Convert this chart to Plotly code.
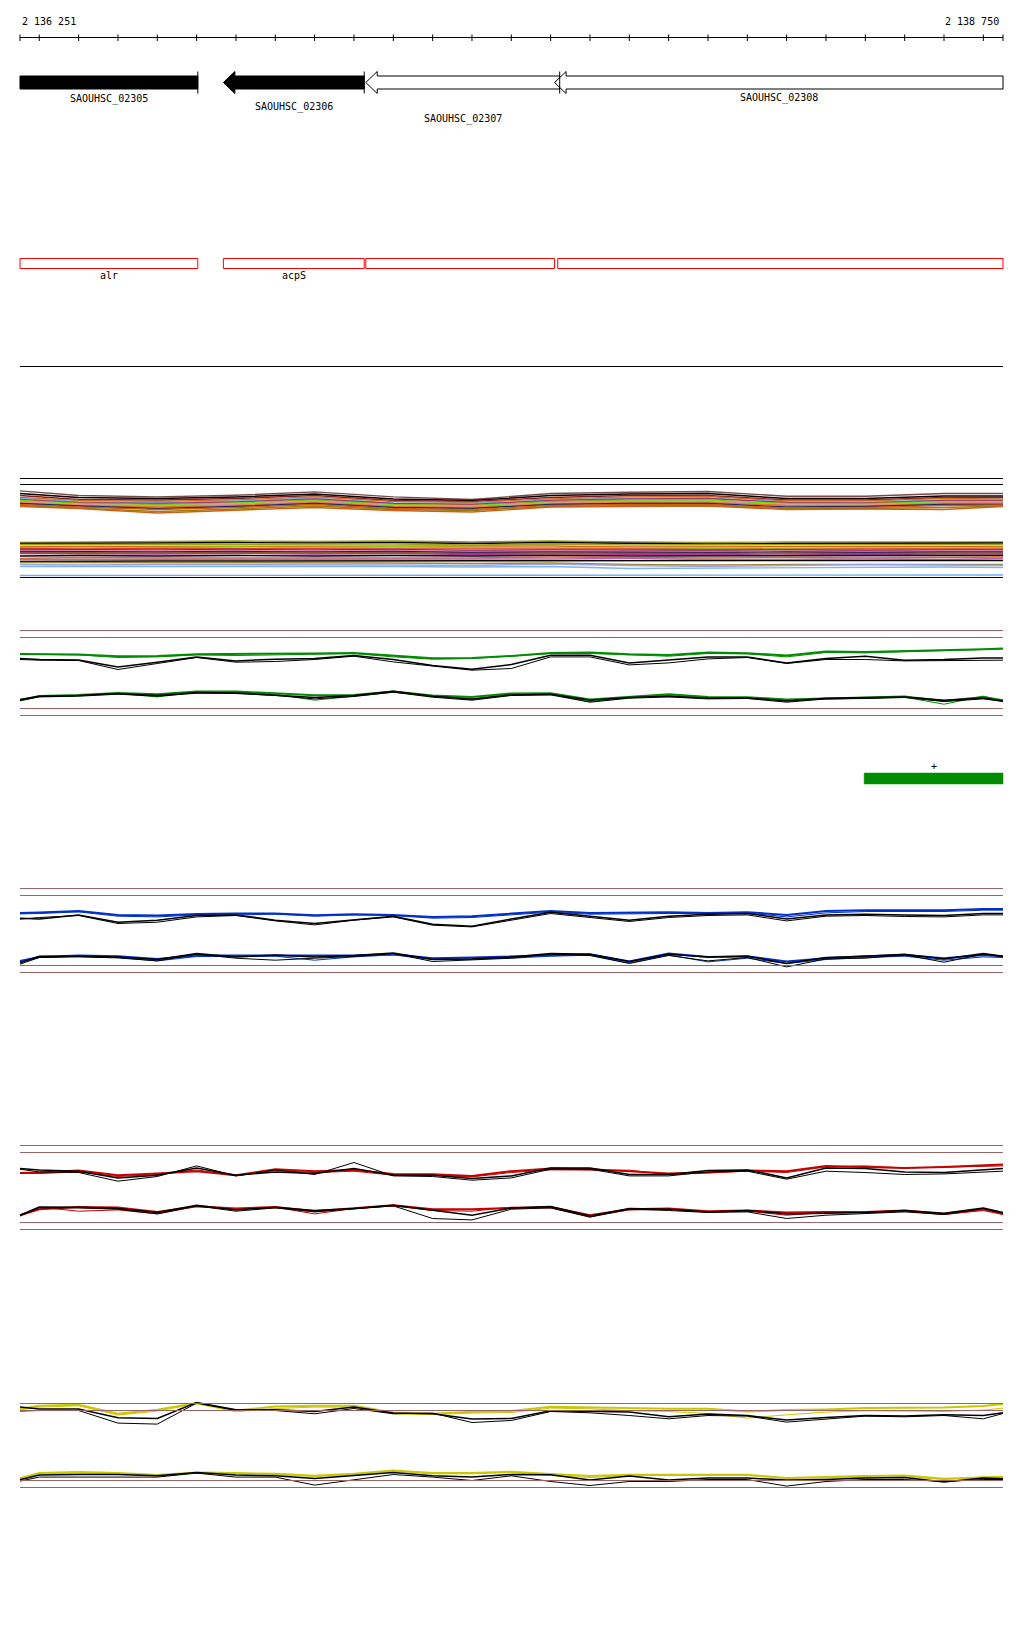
import plotly.graph_objects as go

# ---------------- data ----------------
VIEW_START = 2136251
VIEW_END = 2138750
RULER_TICKS = list(range(2136300, 2138701, 100))
GRID_X = [VIEW_START] + RULER_TICKS + [VIEW_END]
CLUSTER_X = [2136251, 2136400, 2136600, 2136800, 2137000, 2137200, 2137400,
             2137600, 2137800, 2138000, 2138200, 2138400, 2138600, 2138750]

GENE_NAMES = ["SAOUHSC_02305", "SAOUHSC_02306", "SAOUHSC_02307", "SAOUHSC_02308"]
GENE_START = [2136251, 2136768, 2137130, 2137610]
GENE_END = [2136703, 2137126, 2137623, 2138750]
GENE_FILLED = [True, True, False, False]
GENE_HEAD = [False, True, True, True]

CDS_LABELS = ["alr", "acpS", "", ""]
CDS_START = [2136251, 2136768, 2137130, 2137618]
CDS_END = [2136703, 2137126, 2137610, 2138750]

FEATURE_START = [2138397]
FEATURE_END = [2138750]
FEATURE_LABEL = ["+"]

# multi-sample profile track (offset below track top)
TOP_CLUSTER = [
    [12.4, 17.0, 18.4, 16.7, 13.4, 18.4, 21.0, 15.0, 13.7, 13.0, 17.7, 17.7, 15.0, 15.0],
    [15, 19, 20, 18.5, 15.5, 20.5, 22, 17, 15.5, 15, 20, 20, 17.5, 17.5],
    [17, 21, 21.5, 20, 17, 22, 23, 19, 17, 17, 21.5, 21.5, 19, 19],
    [19, 22, 23, 21.5, 18.5, 23, 24, 20.5, 18.5, 18, 22.5, 22.5, 20, 20.5],
    [20, 23, 24, 22.5, 19.5, 24.5, 25, 21.5, 19.5, 19.5, 23.5, 23.5, 21.5, 21],
    [21, 24, 25, 23.5, 20.5, 25, 26, 22, 20.5, 20, 24, 24.5, 22, 22],
    [22, 24.5, 26, 24.5, 21.5, 26, 27, 23, 21.5, 21.5, 25, 25, 23, 23],
    [22.5, 25.5, 27, 25, 22.5, 26.5, 27.5, 24, 22.5, 22, 25.5, 26, 23.5, 23.5],
    [23.5, 26, 27.5, 26, 23, 27.5, 28.5, 24.5, 23, 23, 26.5, 26.5, 24.5, 24],
    [24.5, 27, 28.5, 27, 24, 28, 29, 25.5, 24, 24, 27, 27.5, 25, 25],
    [25, 27.5, 30, 28, 25, 29, 30, 26, 25, 25, 28.5, 28, 26, 26],
    [26, 28.5, 31, 29, 26, 30, 31, 27, 26, 26, 29.5, 29, 27, 26.5],
    [27, 29.5, 33, 30.5, 27.5, 31, 32, 28, 27, 27, 30, 30, 29, 27.5],
    [28, 30, 34.5, 31.5, 29, 32, 33.5, 28.5, 28, 27.5, 31, 30.5, 31, 28],
]
BOTTOM_CLUSTER = [
    [64, 63.5, 63, 62.5, 63, 62.5, 63.5, 62.5, 63.5, 64, 63.5, 63.5, 63, 63.5],
    [65, 64.5, 64.5, 64, 64.5, 64, 65, 64, 65, 65.5, 65, 65, 64.5, 64.5],
    [66, 66, 65.5, 65.5, 66, 65.5, 66.5, 65.5, 66.5, 66.5, 66, 66.5, 66, 66],
    [68, 68, 67.5, 67.5, 68, 67.5, 68, 67.5, 68.5, 68.5, 68, 68.5, 68, 68],
    [69, 69.5, 69, 68.5, 69, 68.5, 69, 69, 69.5, 70, 69.5, 69.5, 69.5, 69],
    [70, 70.5, 70, 70, 70.5, 70, 70.5, 70, 70.5, 71, 70.5, 70.5, 70.5, 70.5],
    [71, 71.5, 71.5, 71, 71.5, 71, 72, 71.5, 72, 72, 71.5, 72, 71.5, 71.5],
    [72, 72.5, 72.5, 72, 72.5, 72, 73, 72.5, 73, 73, 72.5, 73, 72.5, 72.5],
    [73, 73.5, 73.5, 73, 73.5, 73, 74, 73.5, 74, 74, 73.5, 74, 73.5, 73.5],
    [74, 74.5, 74.5, 74, 74.5, 74, 75, 74.5, 75, 75, 74.5, 75, 74.5, 74.5],
    [75, 75.5, 75.5, 75, 75.5, 75, 76, 75.5, 76, 76, 75.5, 76, 75.5, 75.5],
    [77.5, 77, 77.5, 77, 77.5, 77, 77.5, 77, 77.5, 77.5, 77, 77.5, 77, 77],
    [80, 79, 79.5, 79.5, 79, 79, 79.5, 78.5, 79, 79.5, 79, 79.5, 79, 78.5],
    [81, 81, 80.5, 81, 81, 80.5, 81, 80.5, 80, 81, 81, 80.5, 81, 80],
    [83, 82.5, 82.5, 82.5, 82.5, 82.5, 82.5, 82, 82, 82.5, 82.5, 82.5, 82, 82],
    [84, 84, 84.5, 84, 84.5, 84.5, 85, 84.5, 86, 86.5, 86, 86, 85.5, 86],
    [86, 86.5, 86, 86, 86, 86.5, 87, 85.5, 87, 88, 87, 86, 86.5, 87],
    [88, 88, 88, 88, 87.5, 88, 88.5, 88, 90, 89.5, 89, 88.5, 88.5, 89],
    [97, 97, 97, 97, 97, 97, 97, 96.5, 96.5, 96.5, 96.5, 96.5, 96.5, 96.5],
]

# paired graph tracks (offset below each track's top guide line)
GREEN_TOP_A = [23.4, 23.4, 24.0, 25.7, 25.4, 23.7, 23.7, 23.4, 23.0, 22.4, 25.0, 27.7, 27.4, 25.4, 22.4, 22.0, 23.7, 24.4, 22.0, 22.7, 25.0, 21.0, 21.4, 20.7, 19.7, 18.7, 18.0]
GREEN_TOP_B = [23.7, 24.0, 24.4, 27.0, 26.4, 24.4, 25.0, 24.4, 23.4, 23.0, 26.4, 28.7, 28.0, 25.7, 23.0, 23.0, 24.7, 25.7, 23.0, 23.4, 26.4, 22.0, 22.4, 21.4, 20.4, 19.0, 18.4]
GREEN_TOP_K1 = [28.0, 29.0, 29.4, 36.4, 31.7, 26.4, 30.4, 28.7, 28.0, 25.0, 29.0, 35.0, 38.7, 34.0, 24.7, 24.7, 32.4, 29.7, 26.4, 26.4, 32.4, 28.0, 25.7, 29.7, 29.0, 27.4, 27.4]
GREEN_TOP_K2 = [29.0, 29.7, 30.0, 39.0, 33.0, 27.0, 31.7, 31.0, 29.0, 25.7, 31.4, 35.7, 39.7, 38.0, 26.4, 26.4, 34.4, 32.4, 28.4, 27.0, 33.0, 29.0, 29.0, 30.4, 30.4, 30.0, 29.7]
GREEN_BOT_A = [69.7, 65.4, 64.4, 62.4, 63.7, 61.0, 61.0, 63.0, 64.7, 64.4, 61.0, 65.0, 66.4, 63.0, 62.7, 69.0, 66.4, 63.7, 66.4, 66.7, 69.0, 68.0, 67.0, 66.0, 70.4, 66.4, 69.7]
GREEN_BOT_B = [70.4, 66.0, 64.7, 63.0, 66.4, 61.7, 61.7, 63.7, 69.7, 65.7, 61.7, 65.7, 69.0, 63.7, 63.7, 71.0, 67.0, 65.0, 67.7, 67.4, 70.4, 68.7, 67.7, 66.7, 73.7, 65.7, 70.4]
GREEN_BOT_K1 = [69.0, 65.7, 65.0, 63.0, 65.0, 62.0, 62.4, 64.4, 67.0, 65.0, 60.7, 65.7, 68.4, 64.4, 63.7, 69.7, 67.0, 65.7, 67.7, 67.4, 70.4, 67.7, 67.4, 66.4, 69.7, 67.4, 70.4]
GREEN_BOT_K2 = [70.0, 66.4, 65.7, 63.7, 65.7, 62.7, 63.0, 65.0, 68.4, 66.0, 61.7, 66.7, 69.7, 65.0, 64.4, 71.7, 67.7, 66.4, 68.4, 68.0, 71.7, 68.4, 68.0, 67.0, 71.0, 68.4, 71.0]

BLUE_TOP_A = [24.4, 24.0, 22.4, 26.4, 27.0, 25.4, 25.0, 25.0, 26.7, 25.7, 26.4, 28.4, 27.7, 25.4, 22.4, 24.4, 23.7, 23.7, 24.4, 23.7, 26.4, 22.4, 21.7, 21.7, 21.7, 20.4, 20.4]
BLUE_TOP_B = [25.4, 25.0, 23.4, 27.7, 28.4, 26.4, 26.4, 25.7, 27.7, 26.4, 27.0, 29.7, 29.0, 26.4, 23.7, 25.7, 25.0, 25.0, 25.0, 24.4, 28.4, 24.4, 23.0, 23.0, 23.0, 21.7, 21.7]
BLUE_TOP_K1 = [29.7, 30.4, 26.4, 33.7, 31.7, 27.0, 26.4, 31.7, 35.0, 31.0, 27.7, 35.7, 37.7, 30.4, 23.7, 27.7, 31.7, 27.7, 25.7, 25.0, 30.4, 26.4, 25.7, 26.4, 27.0, 25.0, 25.0]
BLUE_TOP_K2 = [30.7, 29.0, 27.0, 35.0, 33.7, 28.4, 27.0, 32.4, 36.4, 31.7, 28.4, 36.7, 38.4, 31.7, 25.0, 29.0, 33.0, 29.0, 27.0, 26.4, 32.4, 27.7, 27.0, 28.0, 28.4, 26.4, 26.4]
BLUE_BOT_A = [72.4, 68.4, 67.0, 67.7, 70.4, 67.0, 67.0, 67.0, 67.7, 67.0, 65.7, 69.7, 69.0, 67.7, 66.4, 65.7, 73.0, 65.0, 68.4, 67.7, 73.0, 69.7, 67.7, 66.4, 69.7, 66.4, 67.7]
BLUE_BOT_B = [73.4, 69.0, 67.7, 69.0, 72.4, 68.0, 68.0, 67.7, 71.7, 68.4, 66.4, 71.0, 70.4, 69.7, 67.7, 66.7, 74.4, 66.4, 73.4, 69.7, 75.0, 71.0, 69.0, 67.7, 71.7, 68.4, 69.0]
BLUE_BOT_K1 = [74.4, 67.7, 67.7, 68.4, 71.0, 65.0, 68.4, 66.4, 68.4, 67.0, 64.4, 71.0, 70.4, 68.4, 65.0, 65.7, 73.0, 65.7, 68.4, 67.7, 75.0, 69.0, 67.7, 65.7, 70.4, 65.0, 67.7]
BLUE_BOT_K2 = [75.7, 69.0, 68.4, 69.4, 72.4, 65.7, 69.7, 71.7, 69.7, 68.0, 65.0, 73.0, 71.4, 69.7, 65.7, 67.0, 75.0, 67.0, 72.4, 69.0, 78.4, 70.4, 69.7, 66.4, 73.7, 65.7, 68.4]

RED_TOP_A = [27.4, 27.0, 25.0, 29.7, 28.0, 25.7, 29.7, 23.7, 25.7, 24.4, 28.4, 28.7, 30.4, 25.7, 23.0, 23.7, 25.7, 28.0, 27.0, 25.0, 25.7, 20.4, 21.4, 22.4, 21.4, 19.7, 19.0]
RED_TOP_B = [28.0, 28.0, 26.4, 31.0, 29.0, 24.4, 30.4, 25.0, 27.0, 25.7, 29.7, 29.7, 31.4, 27.0, 24.4, 24.4, 24.7, 29.0, 27.0, 25.7, 27.0, 21.4, 20.4, 22.4, 21.7, 20.4, 20.4]
RED_TOP_K1 = [23.0, 24.4, 25.7, 32.4, 29.7, 22.4, 29.7, 26.4, 28.0, 23.0, 29.7, 29.7, 33.0, 30.4, 22.4, 22.4, 29.0, 29.0, 25.0, 24.4, 32.4, 22.4, 23.0, 26.4, 27.0, 24.4, 23.0]
RED_TOP_K2 = [23.7, 26.4, 27.0, 35.7, 31.0, 20.4, 30.4, 24.4, 29.0, 17.0, 30.4, 31.0, 34.7, 32.4, 23.7, 23.7, 30.4, 30.4, 26.4, 25.7, 33.7, 25.7, 27.0, 29.0, 28.4, 26.4, 25.7]
RED_BOT_A = [69.7, 63.7, 61.4, 62.0, 66.4, 60.7, 63.0, 61.4, 65.7, 62.4, 59.7, 63.7, 63.7, 62.4, 61.4, 69.7, 63.7, 63.0, 65.7, 65.0, 67.0, 66.4, 66.4, 65.0, 68.4, 63.7, 68.4]
RED_BOT_B = [70.4, 61.7, 65.7, 64.4, 68.4, 61.0, 63.7, 61.7, 68.4, 63.0, 60.4, 65.0, 65.7, 61.7, 62.4, 71.0, 64.4, 63.7, 66.4, 65.7, 69.7, 67.0, 67.0, 65.7, 69.0, 65.0, 69.0]
RED_BOT_K1 = [69.7, 61.4, 61.7, 63.0, 67.0, 59.7, 64.4, 61.7, 65.0, 63.0, 59.7, 64.7, 69.7, 62.4, 61.0, 70.4, 63.0, 63.7, 66.4, 65.0, 68.4, 67.7, 67.0, 65.0, 67.7, 62.4, 67.0]
RED_BOT_K2 = [70.4, 62.4, 62.4, 63.7, 68.4, 60.4, 65.7, 62.4, 66.4, 63.7, 60.4, 73.0, 74.4, 63.7, 62.4, 71.7, 63.7, 65.0, 67.0, 66.4, 73.0, 69.7, 67.7, 66.4, 69.0, 63.0, 67.7]

YEL_TOP_A = [5.6, 2.3, 1.3, 10.3, 6.3, -0.4, 7.0, 3.0, 2.3, 2.3, 9.0, 10.3, 8.3, 7.6, 3.3, 4.0, 4.0, 5.3, 5.3, 8.0, 6.6, 6.0, 4.6, 4.0, 4.0, 2.6, 0.6]
YEL_TOP_B = [6.3, 3.6, 2.3, 11.6, 7.6, 0.3, 8.3, 5.0, 3.6, 3.6, 10.3, 11.0, 9.6, 9.0, 4.6, 5.3, 7.3, 8.0, 10.0, 14.6, 11.3, 8.6, 7.3, 7.3, 8.0, 6.6, 4.6]
YEL_TOP_K1 = [3.6, 5.6, 5.6, 14.3, 15.0, -1.0, 6.3, 6.3, 8.0, 3.6, 9.6, 10.3, 15.6, 15.0, 7.3, 8.0, 8.6, 13.3, 10.6, 12.0, 16.6, 14.0, 12.0, 12.6, 11.3, 12.0, 9.3]
YEL_TOP_K2 = [7.6, 7.0, 7.0, 19.6, 20.6, -0.4, 7.0, 7.0, 10.3, 5.0, 10.3, 9.6, 19.0, 17.0, 8.0, 9.3, 12.0, 15.3, 12.0, 12.6, 18.6, 15.3, 12.6, 13.3, 12.0, 15.3, 10.0]
YEL_BOT_A = [74.6, 69.6, 68.6, 69.6, 71.6, 69.0, 69.6, 70.3, 72.3, 70.3, 67.0, 69.6, 69.6, 68.3, 70.6, 72.6, 71.3, 71.3, 71.3, 71.3, 74.6, 73.3, 72.6, 72.0, 75.3, 74.0, 73.3]
YEL_BOT_B = [75.6, 70.3, 69.6, 70.3, 72.3, 69.6, 70.3, 71.0, 73.0, 71.3, 67.6, 70.3, 70.3, 69.0, 72.0, 74.0, 72.0, 72.0, 72.0, 72.0, 74.6, 74.6, 74.0, 73.3, 76.0, 73.3, 74.0]
YEL_BOT_K1 = [76.3, 71.6, 71.0, 71.0, 72.3, 69.0, 71.6, 72.3, 75.0, 72.3, 69.0, 72.3, 73.6, 71.0, 71.3, 76.6, 72.6, 76.6, 74.6, 74.6, 76.6, 76.0, 74.6, 74.0, 78.6, 74.6, 75.3]
YEL_BOT_K2 = [77.6, 73.6, 73.6, 73.6, 73.6, 69.6, 73.6, 73.6, 81.6, 76.3, 71.0, 73.6, 77.0, 72.3, 78.0, 82.0, 78.0, 78.0, 76.0, 76.0, 82.6, 78.0, 76.0, 76.0, 78.0, 76.0, 76.0]

# ---------------- styles / layout ----------------
PAGE_W, PAGE_H, BODY = 1024, 1640, 8          # browser body margin
W, H = PAGE_W - 2 * BODY, PAGE_H - 2 * BODY    # figure size
PX_L, PX_R, PAD = 20, 1003, 2                  # page pixels of the view edges
BP_PER_PX = (VIEW_END - VIEW_START) / (PX_R - PX_L)
X_RANGE = [VIEW_START - PAD * BP_PER_PX, VIEW_END + PAD * BP_PER_PX]
FONT = dict(family="DejaVu Sans Mono", size=10, color="black")
GUIDE = "#9b6464"

TOP_COLORS = ["#7a4a4a", "#000000", "#8b1a1a", "#d2691e", "#7fb2e5", "#a0307a", "#9a9a10",
              "#66ee11", "#e090a0", "#e8742c", "#20206a", "#c0601c", "#a08000", "#cc5f1a"]
BOT_COLORS = ["#9a9a00", "#000000", "#a0a020", "#d2691e", "#7cdc00", "#e03c28", "#8b1c62",
              "#d890c0", "#191970", "#8b5a2b", "#b0308a", "#000000", "#d2691e", "#c060b0",
              "#000000", "#a08830", "#a0a0e6", "#78b4f0", "#6ab0f0"]

fig = go.Figure()
shapes, annotations = [], []


def dom(p0, p1):
    return [1 - (p1 - BODY) / H, 1 - (p0 - BODY) / H]


def hline(yref, y, color, width=1, x0=VIEW_START, x1=VIEW_END):
    shapes.append(dict(type="line", xref="x", yref=yref, x0=x0, x1=x1, y0=y, y1=y,
                       line=dict(color=color, width=width), layer="above"))


def text(x, y, s, xanchor="center", size=10, yref="y"):
    annotations.append(dict(x=x, y=y, xref="x", yref=yref, text=s, showarrow=False,
                            xanchor=xanchor, yanchor="middle", font=dict(FONT, size=size)))


def lines(xs, ys, color, width, yaxis):
    fig.add_trace(go.Scatter(x=xs, y=ys, mode="lines", yaxis=yaxis, hoverinfo="skip",
                             line=dict(color=color, width=width), showlegend=False))


# ruler (page-row layout axis y)
RULER_Y = 37.5
rx, ry = [VIEW_START, VIEW_END, None], [RULER_Y, RULER_Y, None]
for t in [VIEW_START] + RULER_TICKS + [VIEW_END]:
    rx += [t, t, None]
    ry += [34.5, 41, None]
lines(rx, ry, "black", 1, "y")
fmt = lambda v: f"{v:,}".replace(",", " ")
text(VIEW_START, 21, fmt(VIEW_START), xanchor="left")
text(VIEW_END - 2 * BP_PER_PX, 21, fmt(VIEW_END), xanchor="right")

# genes
C, HALF, HEADH = 82.5, 6.5, 11
HEAD_BP = 11.5 * BP_PER_PX
LABEL_Y = [98.5, 106.5, 118.5, 97.5]
for name, s, e, filled, head, ly in zip(GENE_NAMES, GENE_START, GENE_END, GENE_FILLED, GENE_HEAD, LABEL_Y):
    if head:
        xs = [s, s + HEAD_BP, s + HEAD_BP, e, e, s + HEAD_BP, s + HEAD_BP, s]
        ys = [C, C - HEADH, C - HALF, C - HALF, C + HALF, C + HALF, C + HEADH, C]
    else:
        xs = [s, e, e, s, s]
        ys = [C - HALF, C - HALF, C + HALF, C + HALF, C - HALF]
    fig.add_trace(go.Scatter(x=xs, y=ys, mode="lines", fill="toself", yaxis="y",
                             fillcolor="black" if filled else "white", hoverinfo="skip",
                             line=dict(color="black", width=1), showlegend=False))
    text((s + e) / 2, ly, name)
bx, by = [], []
for e in GENE_END:
    if e < VIEW_END:
        bx += [e, e, None]
        by += [71.5, 93.5, None]
lines(bx, by, "black", 1, "y")

# CDS boxes
for lab, s, e in zip(CDS_LABELS, CDS_START, CDS_END):
    fig.add_trace(go.Scatter(x=[s, e, e, s, s], y=[258.5, 258.5, 268.5, 268.5, 258.5], yaxis="y",
                             mode="lines", line=dict(color="#ff0000", width=1),
                             hoverinfo="skip", showlegend=False))
    if lab:
        text((s + e) / 2, 275.5, lab)

hline("y", 366.5, "black", 1)

# feature bar
for s, e, lab in zip(FEATURE_START, FEATURE_END, FEATURE_LABEL):
    fig.add_trace(go.Scatter(x=[s, e, e, s, s], y=[773, 773, 784, 784, 773], yaxis="y",
                             mode="lines", fill="toself", fillcolor="#008c00",
                             line=dict(color="#008c00", width=0.5), hoverinfo="skip", showlegend=False))
    text((s + e) / 2, 766, lab)

# track axes
axes = {}


def track_axis(name, top, p0, p1):
    axes[name] = dict(domain=dom(p0, p1), range=[p1 - top, p0 - top], visible=False,
                      anchor="x", fixedrange=True)


# multi-sample profile track
track_axis("yaxis2", 478.5, 468, 582)
for vals, col in zip(TOP_CLUSTER, TOP_COLORS):
    lines(CLUSTER_X, vals, col, 1.4, "y2")
for vals, col in zip(BOTTOM_CLUSTER, BOT_COLORS):
    lines(CLUSTER_X, vals, col, 1.4, "y2")
for g in [0, 6, 99]:
    hline("y2", g, "black", 1)

GRAPH_TRACKS = [
    ("yaxis3", "y3", 630.5, 620, 726, "#008c00", [0, 7, 78, 85],
     [GREEN_TOP_A, GREEN_TOP_B, GREEN_TOP_K1, GREEN_TOP_K2, GREEN_BOT_A, GREEN_BOT_B, GREEN_BOT_K1, GREEN_BOT_K2]),
    ("yaxis4", "y4", 888.5, 878, 982, "#0030c8", [0, 7, 77, 84],
     [BLUE_TOP_A, BLUE_TOP_B, BLUE_TOP_K1, BLUE_TOP_K2, BLUE_BOT_A, BLUE_BOT_B, BLUE_BOT_K1, BLUE_BOT_K2]),
    ("yaxis5", "y5", 1145.5, 1135, 1239, "#c80000", [0, 7, 77, 84],
     [RED_TOP_A, RED_TOP_B, RED_TOP_K1, RED_TOP_K2, RED_BOT_A, RED_BOT_B, RED_BOT_K1, RED_BOT_K2]),
    ("yaxis6", "y6", 1403.5, 1393, 1497, "#c8c800", [0, 7, 77, 84],
     [YEL_TOP_A, YEL_TOP_B, YEL_TOP_K1, YEL_TOP_K2, YEL_BOT_A, YEL_BOT_B, YEL_BOT_K1, YEL_BOT_K2]),
]
for axname, yref, top, p0, p1, col, guides, series in GRAPH_TRACKS:
    track_axis(axname, top, p0, p1)
    for g in guides:
        hline(yref, g, GUIDE, 1)
    styles = [(col, 2), (col, 1), ("black", 1.5), ("black", 1)] * 2
    for vals, (c, w) in zip(series, styles):
        lines(GRID_X, vals, c, w, yref)

fig.update_layout(
    width=W, height=H,
    margin=dict(l=PX_L - PAD - BODY, r=(BODY + W) - PX_R - PAD, t=0, b=0),
    paper_bgcolor="white", plot_bgcolor="rgba(0,0,0,0)",
    xaxis=dict(range=X_RANGE, visible=False, anchor="y", fixedrange=True),
    yaxis=dict(range=[BODY + H, BODY], domain=[0, 1], visible=False, anchor="x", fixedrange=True),
    shapes=shapes, annotations=annotations, showlegend=False,
    **axes,
)
fig.write_html("out.html")
